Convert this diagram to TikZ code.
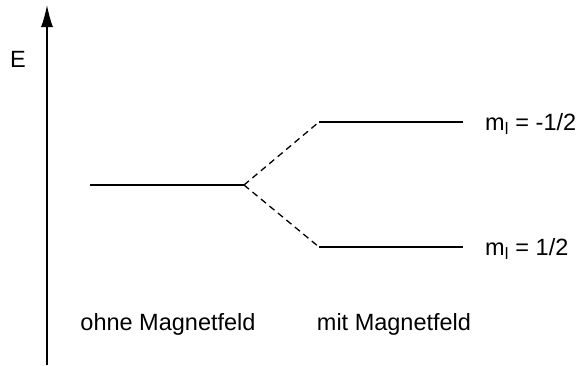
\documentclass[tikz,border=0pt]{standalone}
\usepackage{fontspec}
\setmainfont{Liberation Sans}
\usetikzlibrary{arrows.meta}

\begin{document}
\begin{tikzpicture}[x=1pt,y=-1pt]
\tikzstyle{every node}=[inner sep=0pt, font=\fontsize{23.5}{26}\selectfont]
\tikzstyle{level}=[line width=1.3pt]
\tikzstyle{split}=[line width=1.3pt, dash pattern=on 6.5pt off 4.5pt]
\useasboundingbox (0,0) rectangle (578,365);
% energy axis
\coordinate (a0) at (47,365);
\coordinate (a1) at (47,5);
\draw[line width=1.3pt,-{Latex[length=22pt,width=12pt]}] (a0) -- (a1);
\node (E) at (18,59) {E};
% levels
\coordinate (l0) at (90,185);
\coordinate (l1) at (244,185);
\coordinate (u0) at (319,122);
\coordinate (u1) at (463,122);
\coordinate (d0) at (319,247);
\coordinate (d1) at (463,247);
\draw[level] (l0) -- (l1);
\draw[level] (u0) -- (u1);
\draw[level] (d0) -- (d1);
\draw[split] (l1) -- (u0);
\draw[split] (l1) -- (d0);
\node[anchor=west] (mu) at (485,124) {m\textsubscript{l} = -1/2};
\node[anchor=west] (md) at (485,249) {m\textsubscript{l} = 1/2};
\node (ohne) at (168,324) {ohne Magnetfeld};
\node (mit) at (394,324) {mit Magnetfeld};
\end{tikzpicture}
\end{document}
